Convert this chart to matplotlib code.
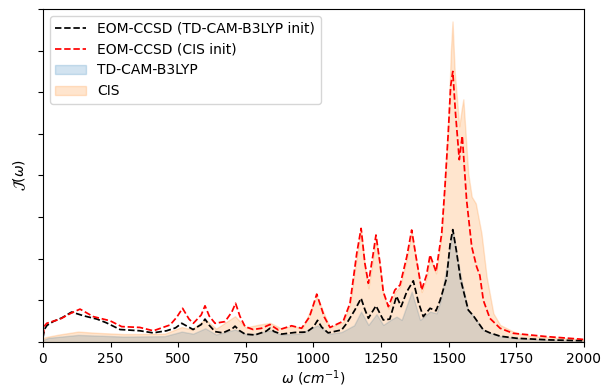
import numpy as np
import matplotlib
matplotlib.use("Agg")
import matplotlib.pyplot as plt

# EOM-CCSD (TD-CAM-B3LYP init)
w_eom_td = [0, 5, 15, 40, 70, 106, 150, 200, 235, 285, 358, 407, 457, 490, 513, 555,
            585, 599, 615, 636, 665, 700, 710, 725, 747, 784, 825, 839, 855, 882, 932, 975,
            1000, 1015, 1030, 1054, 1104, 1123, 1153, 1176, 1190, 1203, 1231, 1258, 1282,
            1307, 1324, 1345, 1369, 1388, 1406, 1431, 1453, 1468, 1492, 1505, 1515, 1528,
            1544, 1572, 1591, 1628, 1652, 1690, 1751, 1874, 2000]
j_eom_td = [0.10, 0.30, 0.40, 0.50, 0.58, 0.72, 0.63, 0.55, 0.46, 0.30, 0.27, 0.22, 0.27, 0.34, 0.45, 0.30,
            0.42, 0.55, 0.40, 0.25, 0.22, 0.32, 0.38, 0.28, 0.19, 0.17, 0.26, 0.33, 0.25, 0.19, 0.23, 0.24,
            0.36, 0.52, 0.36, 0.22, 0.29, 0.45, 0.77, 1.05, 0.78, 0.57, 0.87, 0.53, 0.55,
            1.10, 0.85, 1.21, 1.47, 0.95, 0.61, 0.81, 0.75, 1.00, 1.53, 2.35, 2.70, 2.20,
            1.50, 0.77, 0.63, 0.29, 0.22, 0.14, 0.09, 0.05, 0.03]

# EOM-CCSD (CIS init)
w_eom_cis = [0, 5, 14, 63, 106, 137, 186, 248, 291, 358, 408, 470, 495, 516, 540, 556,
             585, 599, 615, 636, 673, 698, 712, 728, 747, 777, 808, 839, 870, 919, 956, 985,
             1000, 1012, 1025, 1040, 1061, 1110, 1135, 1160, 1176, 1190, 1203, 1219, 1231,
             1246, 1258, 1277, 1301, 1320, 1345, 1363, 1379, 1400, 1418, 1431, 1453, 1474,
             1486, 1498, 1507, 1515, 1525, 1539, 1550, 1566, 1585, 1603, 1615, 1628, 1652,
             1690, 1738, 1800, 1862, 1985, 2000]
j_eom_cis = [0.15, 0.38, 0.45, 0.55, 0.70, 0.79, 0.61, 0.51, 0.37, 0.35, 0.27, 0.41, 0.60, 0.81, 0.55, 0.45,
             0.65, 0.87, 0.62, 0.45, 0.49, 0.72, 0.93, 0.62, 0.37, 0.30, 0.33, 0.42, 0.29, 0.39, 0.33, 0.60,
             0.90, 1.15, 0.90, 0.60, 0.35, 0.50, 0.93, 2.13, 2.73, 1.89, 1.41, 2.05, 2.57,
             1.89, 1.21, 0.85, 1.25, 1.37, 2.05, 2.69, 2.05, 1.25, 1.61, 2.09, 1.69, 2.61,
             3.73, 5.00, 6.14, 6.50, 5.50, 4.38, 4.95, 3.41, 2.29, 1.81, 1.60, 1.00, 0.57,
             0.33, 0.21, 0.17, 0.13, 0.07, 0.06]

# TD-CAM-B3LYP
w_td = [0, 20, 130, 300, 450, 513, 555, 600, 640, 710, 760, 840, 880, 950, 1015, 1060,
        1104, 1150, 1176, 1203, 1233, 1258, 1285, 1307, 1326, 1363, 1394, 1431, 1455,
        1470, 1500, 1515, 1530, 1548, 1572, 1591, 1628, 1652, 1690, 1751, 1874, 2000]
j_td = [0.05, 0.10, 0.17, 0.13, 0.14, 0.25, 0.20, 0.33, 0.18, 0.30, 0.17, 0.28, 0.18, 0.20, 0.40, 0.20,
        0.24, 0.40, 0.73, 0.41, 0.67, 0.41, 0.53, 0.61, 0.53, 1.21, 0.53, 0.73, 0.69,
        1.00, 2.10, 2.69, 2.10, 1.45, 0.77, 0.63, 0.29, 0.22, 0.14, 0.09, 0.05, 0.03]

# CIS
w_cis = [0, 20, 60, 130, 200, 300, 450, 513, 550, 600, 640, 710, 750, 800, 840, 880, 920,
         960, 1012, 1060, 1110, 1135, 1160, 1176, 1190, 1203, 1219, 1231, 1246, 1258, 1277,
         1301, 1320, 1345, 1363, 1379, 1400, 1418, 1431, 1453, 1474, 1486, 1500, 1508, 1514,
         1522, 1539, 1548, 1554, 1572, 1585, 1600, 1621, 1640, 1665, 1690, 1751, 1812, 2000]
j_cis = [0.10, 0.13, 0.18, 0.25, 0.22, 0.19, 0.20, 0.36, 0.30, 0.55, 0.32, 0.62, 0.35, 0.42, 0.46, 0.33, 0.38,
         0.34, 1.10, 0.36, 0.48, 0.90, 2.05, 2.70, 1.80, 1.29, 1.95, 2.50, 1.80, 1.15, 0.80,
         1.20, 1.33, 2.00, 2.65, 2.00, 1.20, 1.55, 2.05, 1.65, 2.60, 3.90, 5.50, 7.00, 7.70,
         6.50, 5.18, 5.60, 5.83, 4.05, 3.49, 3.33, 2.61, 1.57, 0.69, 0.41, 0.21, 0.14, 0.06]

fig = plt.figure(figsize=(6.01, 3.89), dpi=100)
ax = fig.add_axes([0.0715, 0.1208, 0.9002, 0.8561])

ax.plot(w_eom_td, j_eom_td, "k--", lw=1.25, label="EOM-CCSD (TD-CAM-B3LYP init)")
ax.plot(w_eom_cis, j_eom_cis, "r--", lw=1.25, label="EOM-CCSD (CIS init)")
ax.fill_between(w_td, j_td, color="C0", alpha=0.2, label="TD-CAM-B3LYP")
ax.fill_between(w_cis, j_cis, color="C1", alpha=0.2, label="CIS")

ax.set_xlim(0, 2000)
ax.set_ylim(0, 8)
ax.set_yticks(np.arange(0, 9))
ax.set_yticklabels([])
ax.set_xticks([0, 250, 500, 750, 1000, 1250, 1500, 1750, 2000])
ax.set_xlabel(r"$\omega\ (cm^{-1})$", labelpad=2)
ax.set_ylabel(r"$\mathcal{J}(\omega)$")
ax.legend(loc="upper left", handlelength=2.2)

fig.savefig("out.png", dpi=100)
